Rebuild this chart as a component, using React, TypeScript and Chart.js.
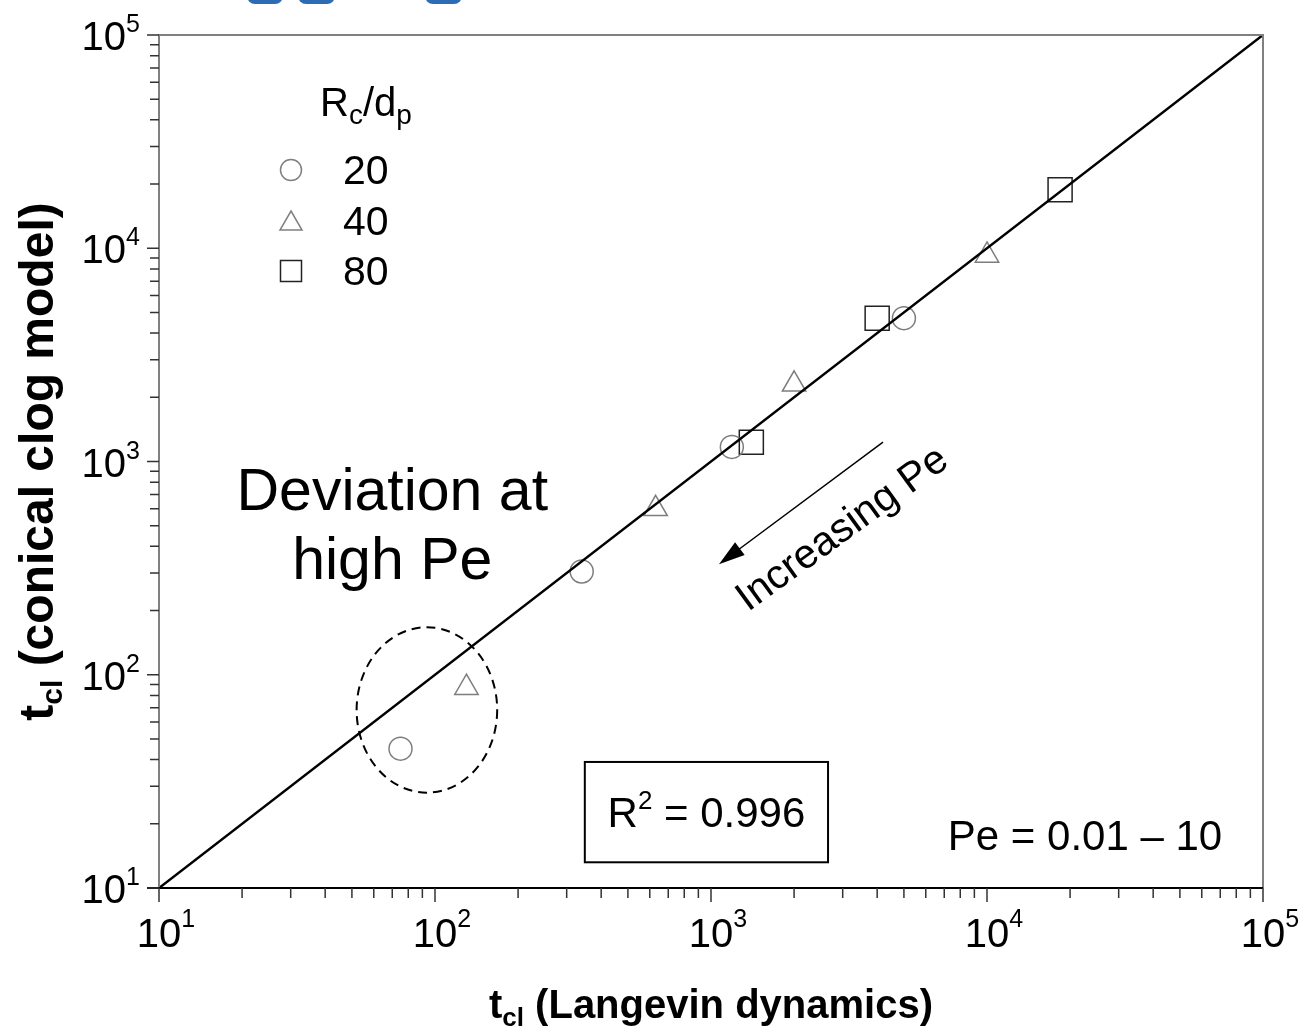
import React, { useEffect, useRef } from 'react';
import { Chart, registerables } from 'chart.js';

Chart.register(...registerables);

// ---- data ----
const seriesLabels = ['20', '40', '80'];
const rc20X = [75, 340, 1190, 5000];
const rc20Y = [45, 305, 1170, 4700];
const rc40X = [130, 630, 2000, 10000];
const rc40Y = [87, 600, 2300, 9250];
const rc80X = [1400, 4000, 18400];
const rc80Y = [1230, 4700, 18800];
const parityX = [10, 100000];
const parityY = [10, 100000];
const decades = [10, 100, 1000, 10000, 100000];
const decadeExponents = ['1', '2', '3', '4', '5'];
const minorMultipliers = [2, 3, 4, 5, 6, 7, 8, 9];

// annotations (data space)
const ellipseX = [52, 168];
const ellipseY = [28, 167];
const arrowFrom = [4200, 1233];
const arrowTo = [1069, 330];
const increasingAt = [3000, 480];
const deviationAt = [70, 593];
const r2BoxX = [349, 2655];
const r2BoxY = [13.2, 39];
const peAt = [22650, 15.1];

const FONT = '"Liberation Sans", Arial, Helvetica, sans-serif';

type Part = { t: string; size: number; dy?: number; bold?: boolean };

function richWidth(ctx: CanvasRenderingContext2D, parts: Part[]) {
  let w = 0;
  for (const p of parts) {
    ctx.font = `${p.bold ? 'bold ' : ''}${p.size}px ${FONT}`;
    w += ctx.measureText(p.t).width;
  }
  return w;
}

function drawRich(ctx: CanvasRenderingContext2D, parts: Part[], x: number, y: number, align: 'left' | 'center' | 'right') {
  const w = richWidth(ctx, parts);
  let cx = align === 'left' ? x : align === 'center' ? x - w / 2 : x - w;
  ctx.textAlign = 'left';
  ctx.textBaseline = 'alphabetic';
  for (const p of parts) {
    ctx.font = `${p.bold ? 'bold ' : ''}${p.size}px ${FONT}`;
    ctx.fillText(p.t, cx, y + (p.dy || 0));
    cx += ctx.measureText(p.t).width;
  }
}

function mkPoints(xs: number[], ys: number[]) {
  return xs.map((x, i) => ({ x, y: ys[i] }));
}

const annotPlugin = {
  id: 'annot',
  afterDatasetsDraw(chart: any) {
    const ctx: CanvasRenderingContext2D = chart.ctx;
    const xs = chart.scales.x;
    const ys = chart.scales.y;
    const { left, right, top, bottom } = chart.chartArea;
    const px = (v: number) => xs.getPixelForValue(v);
    const py = (v: number) => ys.getPixelForValue(v);
    ctx.save();

    // blue tabs at top
    ctx.fillStyle = '#2e6bb5';
    const tabs = [[247, 283], [298, 335], [425, 462]];
    for (const [a, b] of tabs) {
      ctx.beginPath();
      (ctx as any).roundRect(a, -12, b - a, 16, 8);
      ctx.fill();
    }

    // frame
    ctx.lineWidth = 2;
    ctx.strokeStyle = '#808080';
    ctx.beginPath();
    ctx.moveTo(left, bottom);
    ctx.lineTo(left, top);
    ctx.lineTo(right, top);
    ctx.lineTo(right, bottom);
    ctx.stroke();
    ctx.strokeStyle = '#000';
    ctx.beginPath();
    ctx.moveTo(left - 12, bottom);
    ctx.lineTo(right, bottom);
    ctx.stroke();

    // ticks
    ctx.lineWidth = 1.5;
    ctx.strokeStyle = '#333';
    for (let i = 0; i < decades.length; i++) {
      const d = decades[i];
      const X = px(d);
      const Y = py(d);
      ctx.beginPath();
      ctx.moveTo(X, bottom);
      ctx.lineTo(X, bottom + 14);
      ctx.moveTo(left, Y);
      ctx.lineTo(left - 12, Y);
      ctx.stroke();
      if (i < decades.length - 1) {
        for (const m of minorMultipliers) {
          const mx = px(d * m);
          const my = py(d * m);
          ctx.beginPath();
          ctx.moveTo(mx, bottom);
          ctx.lineTo(mx, bottom + 10);
          ctx.moveTo(left, my);
          ctx.lineTo(left - 9, my);
          ctx.stroke();
        }
      }
    }

    // tick labels
    ctx.fillStyle = '#000';
    for (let i = 0; i < decades.length; i++) {
      const d = decades[i];
      const X = px(d);
      const Y = py(d);
      ctx.font = `40px ${FONT}`;
      const w10 = ctx.measureText('10').width;
      // x axis
      drawRich(ctx, [{ t: '10', size: 40 }, { t: decadeExponents[i], size: 25, dy: -20 }], X - w10 / 2, bottom + 59, 'left');
      // y axis
      drawRich(ctx, [{ t: '10', size: 40 }, { t: decadeExponents[i], size: 25, dy: -18 }], left - 19, Y + 15, 'right');
    }

    // axis titles
    drawRich(ctx, [
      { t: 't', size: 40, bold: true },
      { t: 'cl', size: 26, bold: true, dy: 8 },
      { t: ' (Langevin dynamics)', size: 40, bold: true },
    ], (left + right) / 2, bottom + 130, 'center');
    ctx.save();
    ctx.translate(53, (top + bottom) / 2);
    ctx.rotate(-Math.PI / 2);
    drawRich(ctx, [
      { t: 't', size: 48, bold: true },
      { t: 'cl', size: 30, bold: true, dy: 9 },
      { t: ' (conical clog model)', size: 48, bold: true },
    ], 0, 0, 'center');
    ctx.restore();

    // legend
    const lx = left + 132;
    drawRich(ctx, [
      { t: 'R', size: 40 },
      { t: 'c', size: 28, dy: 8 },
      { t: '/d', size: 40 },
      { t: 'p', size: 28, dy: 8 },
    ], left + 161, top + 81, 'left');
    const legY = [top + 135, top + 186, top + 236];
    ctx.lineWidth = 1.5;
    // circle
    ctx.strokeStyle = '#808080';
    ctx.beginPath();
    ctx.arc(lx, legY[0], 10.5, 0, Math.PI * 2);
    ctx.stroke();
    // triangle
    ctx.beginPath();
    ctx.moveTo(lx, legY[1] - 10);
    ctx.lineTo(lx + 11, legY[1] + 9);
    ctx.lineTo(lx - 11, legY[1] + 9);
    ctx.closePath();
    ctx.stroke();
    // square
    ctx.strokeStyle = '#222';
    ctx.strokeRect(lx - 10.5, legY[2] - 10.5, 21, 21);
    ctx.fillStyle = '#000';
    for (let i = 0; i < seriesLabels.length; i++) {
      drawRich(ctx, [{ t: seriesLabels[i], size: 41 }], left + 184, legY[i] + 14, 'left');
    }

    // dashed ellipse
    const ex0 = px(ellipseX[0]), ex1 = px(ellipseX[1]);
    const ey0 = py(ellipseY[1]), ey1 = py(ellipseY[0]);
    ctx.strokeStyle = '#000';
    ctx.lineWidth = 2;
    ctx.setLineDash([9, 6]);
    ctx.beginPath();
    ctx.ellipse((ex0 + ex1) / 2, (ey0 + ey1) / 2, (ex1 - ex0) / 2, (ey1 - ey0) / 2, 0, 0, Math.PI * 2);
    ctx.stroke();
    ctx.setLineDash([]);

    // arrow
    const ax0 = px(arrowFrom[0]), ay0 = py(arrowFrom[1]);
    const ax1 = px(arrowTo[0]), ay1 = py(arrowTo[1]);
    const ang = Math.atan2(ay1 - ay0, ax1 - ax0);
    const hl = 26, hw = 8;
    ctx.lineWidth = 1.5;
    ctx.beginPath();
    ctx.moveTo(ax0, ay0);
    ctx.lineTo(ax1 - Math.cos(ang) * hl * 0.8, ay1 - Math.sin(ang) * hl * 0.8);
    ctx.stroke();
    ctx.fillStyle = '#000';
    ctx.beginPath();
    ctx.moveTo(ax1, ay1);
    ctx.lineTo(ax1 - Math.cos(ang) * hl - Math.sin(ang) * hw, ay1 - Math.sin(ang) * hl + Math.cos(ang) * hw);
    ctx.lineTo(ax1 - Math.cos(ang) * hl + Math.sin(ang) * hw, ay1 - Math.sin(ang) * hl - Math.cos(ang) * hw);
    ctx.closePath();
    ctx.fill();

    // Increasing Pe
    ctx.save();
    ctx.translate(px(increasingAt[0]), py(increasingAt[1]));
    ctx.rotate(-36 * Math.PI / 180);
    ctx.font = `41px ${FONT}`;
    ctx.textAlign = 'center';
    ctx.textBaseline = 'middle';
    ctx.fillText('Increasing Pe', 0, 0);
    ctx.restore();

    // Deviation at high Pe
    ctx.font = `59px ${FONT}`;
    ctx.textAlign = 'center';
    ctx.textBaseline = 'alphabetic';
    const dx = px(deviationAt[0]), dy = py(deviationAt[1]);
    ctx.fillText('Deviation at', dx, dy);
    ctx.fillText('high Pe', dx, dy + 69);

    // R^2 box
    const bx0 = px(r2BoxX[0]), bx1 = px(r2BoxX[1]);
    const by0 = py(r2BoxY[1]), by1 = py(r2BoxY[0]);
    ctx.lineWidth = 2;
    ctx.strokeStyle = '#000';
    ctx.strokeRect(bx0, by0, bx1 - bx0, by1 - by0);
    drawRich(ctx, [
      { t: 'R', size: 42 },
      { t: '2', size: 26, dy: -18 },
      { t: ' = 0.996', size: 42 },
    ], (bx0 + bx1) / 2, (by0 + by1) / 2 + 15, 'center');

    // Pe range
    drawRich(ctx, [{ t: 'Pe = 0.01 \u2013 10', size: 42 }], px(peAt[0]), py(peAt[1]), 'center');

    ctx.restore();
  },
};

export default function App() {
  const ref = useRef<HTMLCanvasElement | null>(null);
  useEffect(() => {
    document.body.style.margin = '0';
    const canvas = ref.current;
    if (!canvas) return;
    const chart = new Chart(canvas, {
      type: 'scatter',
      data: {
        datasets: [
          {
            type: 'line',
            label: 'parity',
            data: mkPoints(parityX, parityY),
            borderColor: '#000',
            borderWidth: 2.5,
            pointRadius: 0,
            fill: false,
            order: 0,
          } as any,
          {
            label: seriesLabels[0],
            data: mkPoints(rc20X, rc20Y),
            pointStyle: 'circle',
            pointRadius: 11.5,
            borderColor: '#7d7d7d',
            backgroundColor: 'rgba(0,0,0,0)',
            borderWidth: 1.5,
            order: 1,
          },
          {
            label: seriesLabels[1],
            data: mkPoints(rc40X, rc40Y),
            pointStyle: 'triangle',
            pointRadius: 13.5,
            borderColor: '#7d7d7d',
            backgroundColor: 'rgba(0,0,0,0)',
            borderWidth: 1.5,
            order: 1,
          },
          {
            label: seriesLabels[2],
            data: mkPoints(rc80X, rc80Y),
            pointStyle: 'rect',
            pointRadius: 17,
            borderColor: '#222',
            backgroundColor: 'rgba(0,0,0,0)',
            borderWidth: 1.5,
            order: 1,
          },
        ],
      },
      options: {
        animation: false,
        responsive: false,
        maintainAspectRatio: false,
        devicePixelRatio: 1,
        layout: { padding: { left: 159, right: 51, top: 35, bottom: 144 } },
        scales: {
          x: { type: 'logarithmic', min: 10, max: 100000, display: false },
          y: { type: 'logarithmic', min: 10, max: 100000, display: false },
        },
        plugins: { legend: { display: false }, tooltip: { enabled: false } },
      },
      plugins: [annotPlugin],
    });
    return () => chart.destroy();
  }, []);
  return (
    <div style={{ width: 1314, height: 1032, background: '#fff' }}>
      <canvas ref={ref} width={1314} height={1032} style={{ display: 'block' }} />
    </div>
  );
}
